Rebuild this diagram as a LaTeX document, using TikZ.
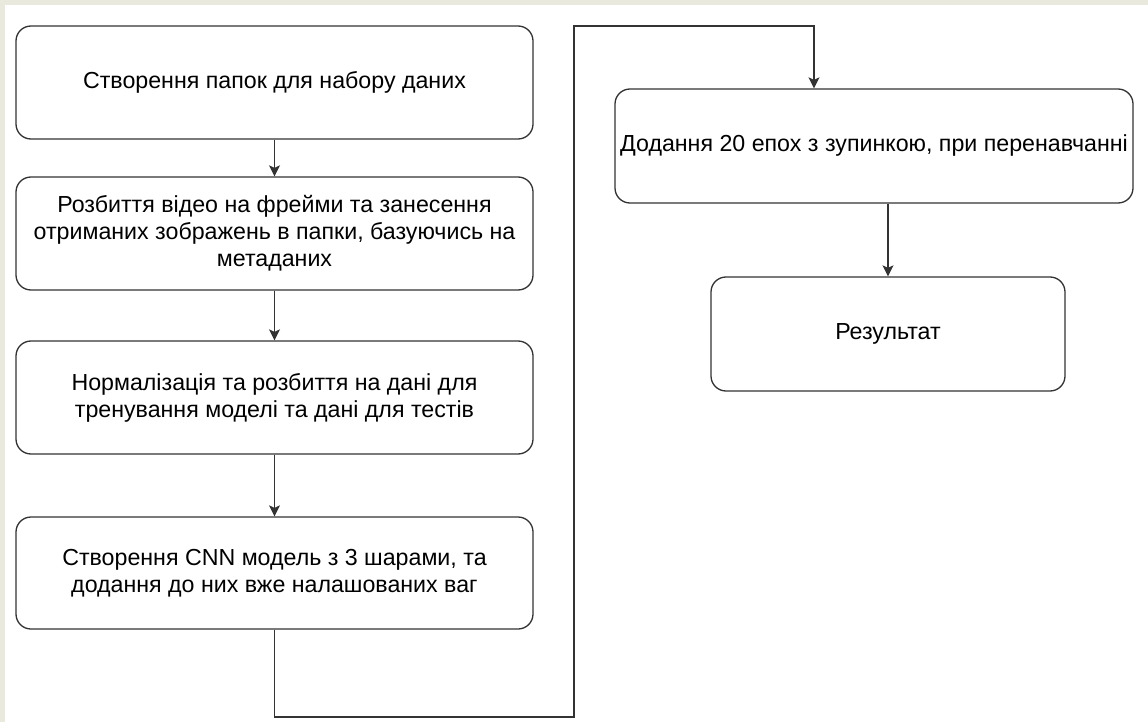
\documentclass[tikz,border=0pt]{standalone}
\usepackage{fontspec}
\setmainfont{Liberation Sans}
\usetikzlibrary{arrows.meta,positioning}
\definecolor{colorPage}{HTML}{EAE9DD}
\definecolor{colorLine}{HTML}{333333}
\def\colorPage{colorPage}
\def\colorLine{colorLine}

\begin{document}
\begin{tikzpicture}[x=1pt,y=-1pt,
  stepbox/.style={draw=\colorLine, line width=1.3pt, rounded corners=15pt,
    fill=white, align=center, inner sep=2pt,
    font=\fontsize{23.2}{27}\selectfont},
  flow/.style={draw=\colorLine, line width=1.3pt,
    -{Stealth[width=11pt,length=11pt,inset=2.5pt]}}
  ]

% Fond de page
\useasboundingbox (0,0) rectangle (1148,722);
\fill[\colorPage] (0,0) rectangle (1148,722);
\fill[white] (5,5) rectangle (1148,722);

% Colonne de gauche
\node[stepbox, minimum width=517pt, minimum height=113pt] (folders) at (274.5,82.5)
  {Створення папок для набору даних};
\node[stepbox, minimum width=517pt, minimum height=113pt] (frames) at (274.5,233.5)
  {Розбиття відео на фрейми та занесення\\
   отриманих зображень в папки, базуючись на\\
   метаданих};
\node[stepbox, minimum width=517pt, minimum height=113pt] (split) at (274.5,397.5)
  {Нормалізація та розбиття на дані для\\
   тренування моделі та дані для тестів};
\node[stepbox, minimum width=517pt, minimum height=112pt] (cnn) at (274.5,573)
  {Створення CNN модель з 3 шарами, та\\
   додання до них вже налашованих ваг};

% Colonne de droite
\node[stepbox, minimum width=518pt, minimum height=114pt] (epochs) at (874,146)
  {Додання 20 епох з зупинкою, при перенавчанні};
\node[stepbox, minimum width=354pt, minimum height=114pt] (result) at (888,334)
  {Результат};

% Points de passage du retour
\coordinate (loopA) at (574,717);
\coordinate (loopB) at (574,26);
\coordinate (loopC) at (814,26);

% Fleches
\draw[flow] (folders) -- (frames);
\draw[flow] (frames) -- (split);
\draw[flow] (split) -- (cnn);
\draw[flow] (cnn.south) |- (loopA) -- (loopB) -- (loopC) -- (loopC |- epochs.north);
\draw[flow] (result.north |- epochs.south) -- (result.north);

\end{tikzpicture}
\end{document}
